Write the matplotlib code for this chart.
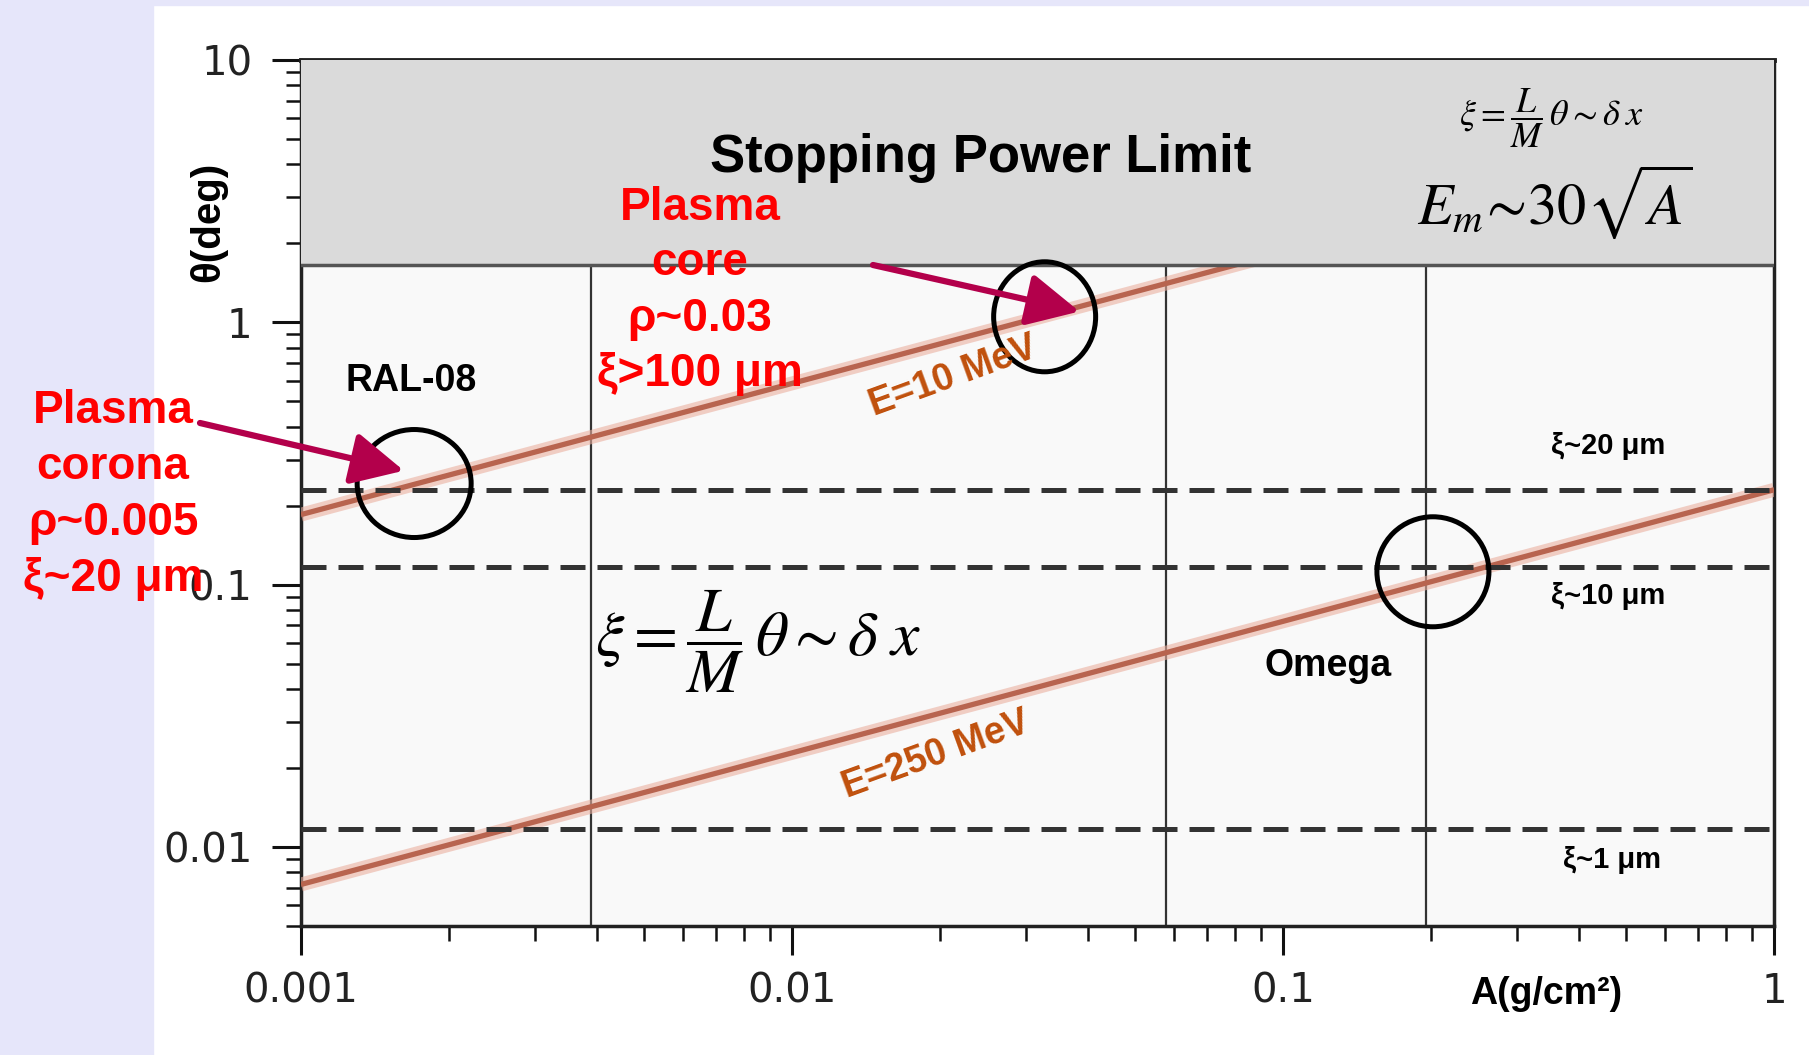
import matplotlib
matplotlib.use('Agg')
import matplotlib.pyplot as plt
from matplotlib.patches import Ellipse, Rectangle
from matplotlib.transforms import ScaledTranslation
from matplotlib.ticker import LogLocator, NullFormatter

plt.rcParams['mathtext.fontset'] = 'stix'

# ---- data ----
A_range = [0.001, 1.0]                  # g/cm^2, ends of the straight log-log lines
theta_10MeV = [0.185, 5.85]             # deg
theta_250MeV = [0.0072, 0.23]           # deg
xi_levels = [0.229, 0.117, 0.0117]      # deg
xi_labels = ['ξ~20 μm', 'ξ~10 μm', 'ξ~1 μm']
experiment_A = [0.0039, 0.0578, 0.196]  # vertical marker lines
stopping_limit = 1.65                   # deg, bottom of the shaded band
circle_A = [0.0017, 0.0327, 0.202]
circle_theta = [0.243, 1.05, 0.112]
x_ticks = [0.001, 0.01, 0.1, 1]
x_ticklabels = ['0.001', '0.01', '0.1', '1']
y_ticks = [0.01, 0.1, 1, 10]
y_ticklabels = ['0.01', '0.1', '1', '10']

W, H = 1809, 1055
fig = plt.figure(figsize=(W / 100, H / 100), dpi=100)
fig.patch.set_facecolor('white')


def fx(x):
    return x / W


def fy(y):
    return 1 - y / H


# slide background strips
fig.patches.append(Rectangle((0, 0), fx(153), 1, transform=fig.transFigure,
                             color='#e6e6fa', zorder=0))
fig.patches.append(Rectangle((0, fy(5)), 1, 1 - fy(5), transform=fig.transFigure,
                             color='#e6e6fa', zorder=0))

ax = fig.add_axes([fx(301), (H - 926) / H, (1774 - 301) / W, (926 - 60) / H])
ax.set_xscale('log')
ax.set_yscale('log')
ax.set_xlim(0.001, 1)
ax.set_ylim(0.005, 10)
ax.set_facecolor('#f9f9f9')

for s in ax.spines.values():
    s.set_linewidth(2.5)
    s.set_color('#222222')
ax.spines['top'].set_linewidth(3.5)

tick_font = dict(family='DejaVu Sans', size=29, color='#222222')
ax.set_xticks(x_ticks)
ax.set_xticklabels(x_ticklabels, **tick_font)
ax.set_yticks(y_ticks)
ax.set_yticklabels(y_ticklabels, **tick_font)
ax.xaxis.set_minor_locator(LogLocator(base=10, subs=range(2, 10)))
ax.yaxis.set_minor_locator(LogLocator(base=10, subs=range(2, 10)))
ax.xaxis.set_minor_formatter(NullFormatter())
ax.yaxis.set_minor_formatter(NullFormatter())
ax.tick_params(which='major', direction='out', length=21, width=2.2, color='#111111')
ax.tick_params(which='minor', direction='out', length=11, width=1.8, color='#111111')
ax.tick_params(axis='x', which='major', pad=12)
ax.tick_params(axis='y', which='major', pad=14)

# stopping power band
ax.axhspan(stopping_limit, 10, facecolor='#dadada', edgecolor='none', zorder=5)
ax.axhline(stopping_limit, color='#555555', lw=2.5, zorder=5.5)

# experiment lines
ax.vlines(experiment_A, 0.005, stopping_limit, color='#333333', lw=1.6, zorder=2)

# energy lines with glow
for th in [theta_10MeV, theta_250MeV]:
    ax.plot(A_range, th, color='#eab0a0', lw=10, alpha=0.6,
            solid_capstyle='butt', zorder=3)
    ax.plot(A_range, th, color='#b8644f', lw=3.8, solid_capstyle='butt', zorder=3.5)

# resolution levels
for lev in xi_levels:
    ax.axhline(lev, color='#333333', lw=3.6, dashes=(5, 2.4), zorder=4)

# circles (drawn in screen inches around data points)
circle_sizes = [(1.14, 1.08), (1.02, 1.10), (1.12, 1.10)]
for cx, cy, (w, h) in zip(circle_A, circle_theta, circle_sizes):
    ell = Ellipse((0, 0), w, h, fill=False, ec='black', lw=3.6,
                  transform=fig.dpi_scale_trans + ScaledTranslation(cx, cy, ax.transData),
                  zorder=8)
    ax.add_patch(ell)

# arrows
arrow_kw = dict(arrowstyle='-|>,head_length=3.2,head_width=1.6', color='#b3004b',
                lw=4.5, shrinkA=0, shrinkB=0, mutation_scale=10)
ax.annotate('', xy=(0.00162, 0.272), xycoords='data',
            xytext=(fx(200), fy(423)), textcoords='figure fraction',
            arrowprops=arrow_kw, annotation_clip=False, zorder=9)
ax.annotate('', xy=(0.0385, 1.10), xycoords='data',
            xytext=(fx(873), fy(265)), textcoords='figure fraction',
            arrowprops=arrow_kw, annotation_clip=False, zorder=9)

bold = dict(family='Liberation Sans', weight='bold')
formula = r'$\xi = \dfrac{L}{M}\,\theta \sim \delta\;x$'

# band texts
fig.text(fx(981), fy(158), 'Stopping Power Limit', fontsize=38, ha='center',
         va='center', color='black', zorder=10, **bold)
fig.text(fx(1552), fy(118), formula, fontsize=26, ha='center', va='center', zorder=10)
fig.text(fx(1555), fy(202), r'$E_m\!\sim\!30\sqrt{A}$', fontsize=42,
         ha='center', va='center', zorder=10)

# middle formula
fig.text(fx(758), fy(641), formula, fontsize=46, ha='center', va='center', zorder=10)

# labels
fig.text(fx(411), fy(381), 'RAL-08', fontsize=27, ha='center', va='center', **bold)
fig.text(fx(1328), fy(666), 'Omega', fontsize=27, ha='center', va='center', **bold)
for lab, pos in zip(xi_labels, [(1608, 446), (1608, 596), (1612, 860)]):
    fig.text(fx(pos[0]), fy(pos[1]), lab, fontsize=21, ha='center', va='center', **bold)

fig.text(fx(953), fy(377), 'E=10 MeV', fontsize=27, rotation=20, ha='center',
         va='center', color='#c0500c', zorder=10, **bold)
fig.text(fx(936), fy(755), 'E=250 MeV', fontsize=27, rotation=20, ha='center',
         va='center', color='#c0500c', zorder=10, **bold)

# red plasma annotations
fig.text(fx(700), fy(291), 'Plasma\ncore\nρ~0.03\nξ>100 μm', fontsize=33,
         ha='center', va='center', color='#ff0000', linespacing=1.33, zorder=11, **bold)
fig.text(fx(113), fy(495), 'Plasma\ncorona\nρ~0.005\nξ~20 μm', fontsize=33,
         ha='center', va='center', color='#ff0000', linespacing=1.36, zorder=11, **bold)

# axis titles
fig.text(fx(208), fy(222), 'θ(deg)', fontsize=29, rotation=90, ha='center',
         va='center', **bold)
fig.text(fx(1546), fy(994), 'A(g/cm²)', fontsize=27, ha='center', va='center', **bold)

fig.savefig('out.png', dpi=100)
